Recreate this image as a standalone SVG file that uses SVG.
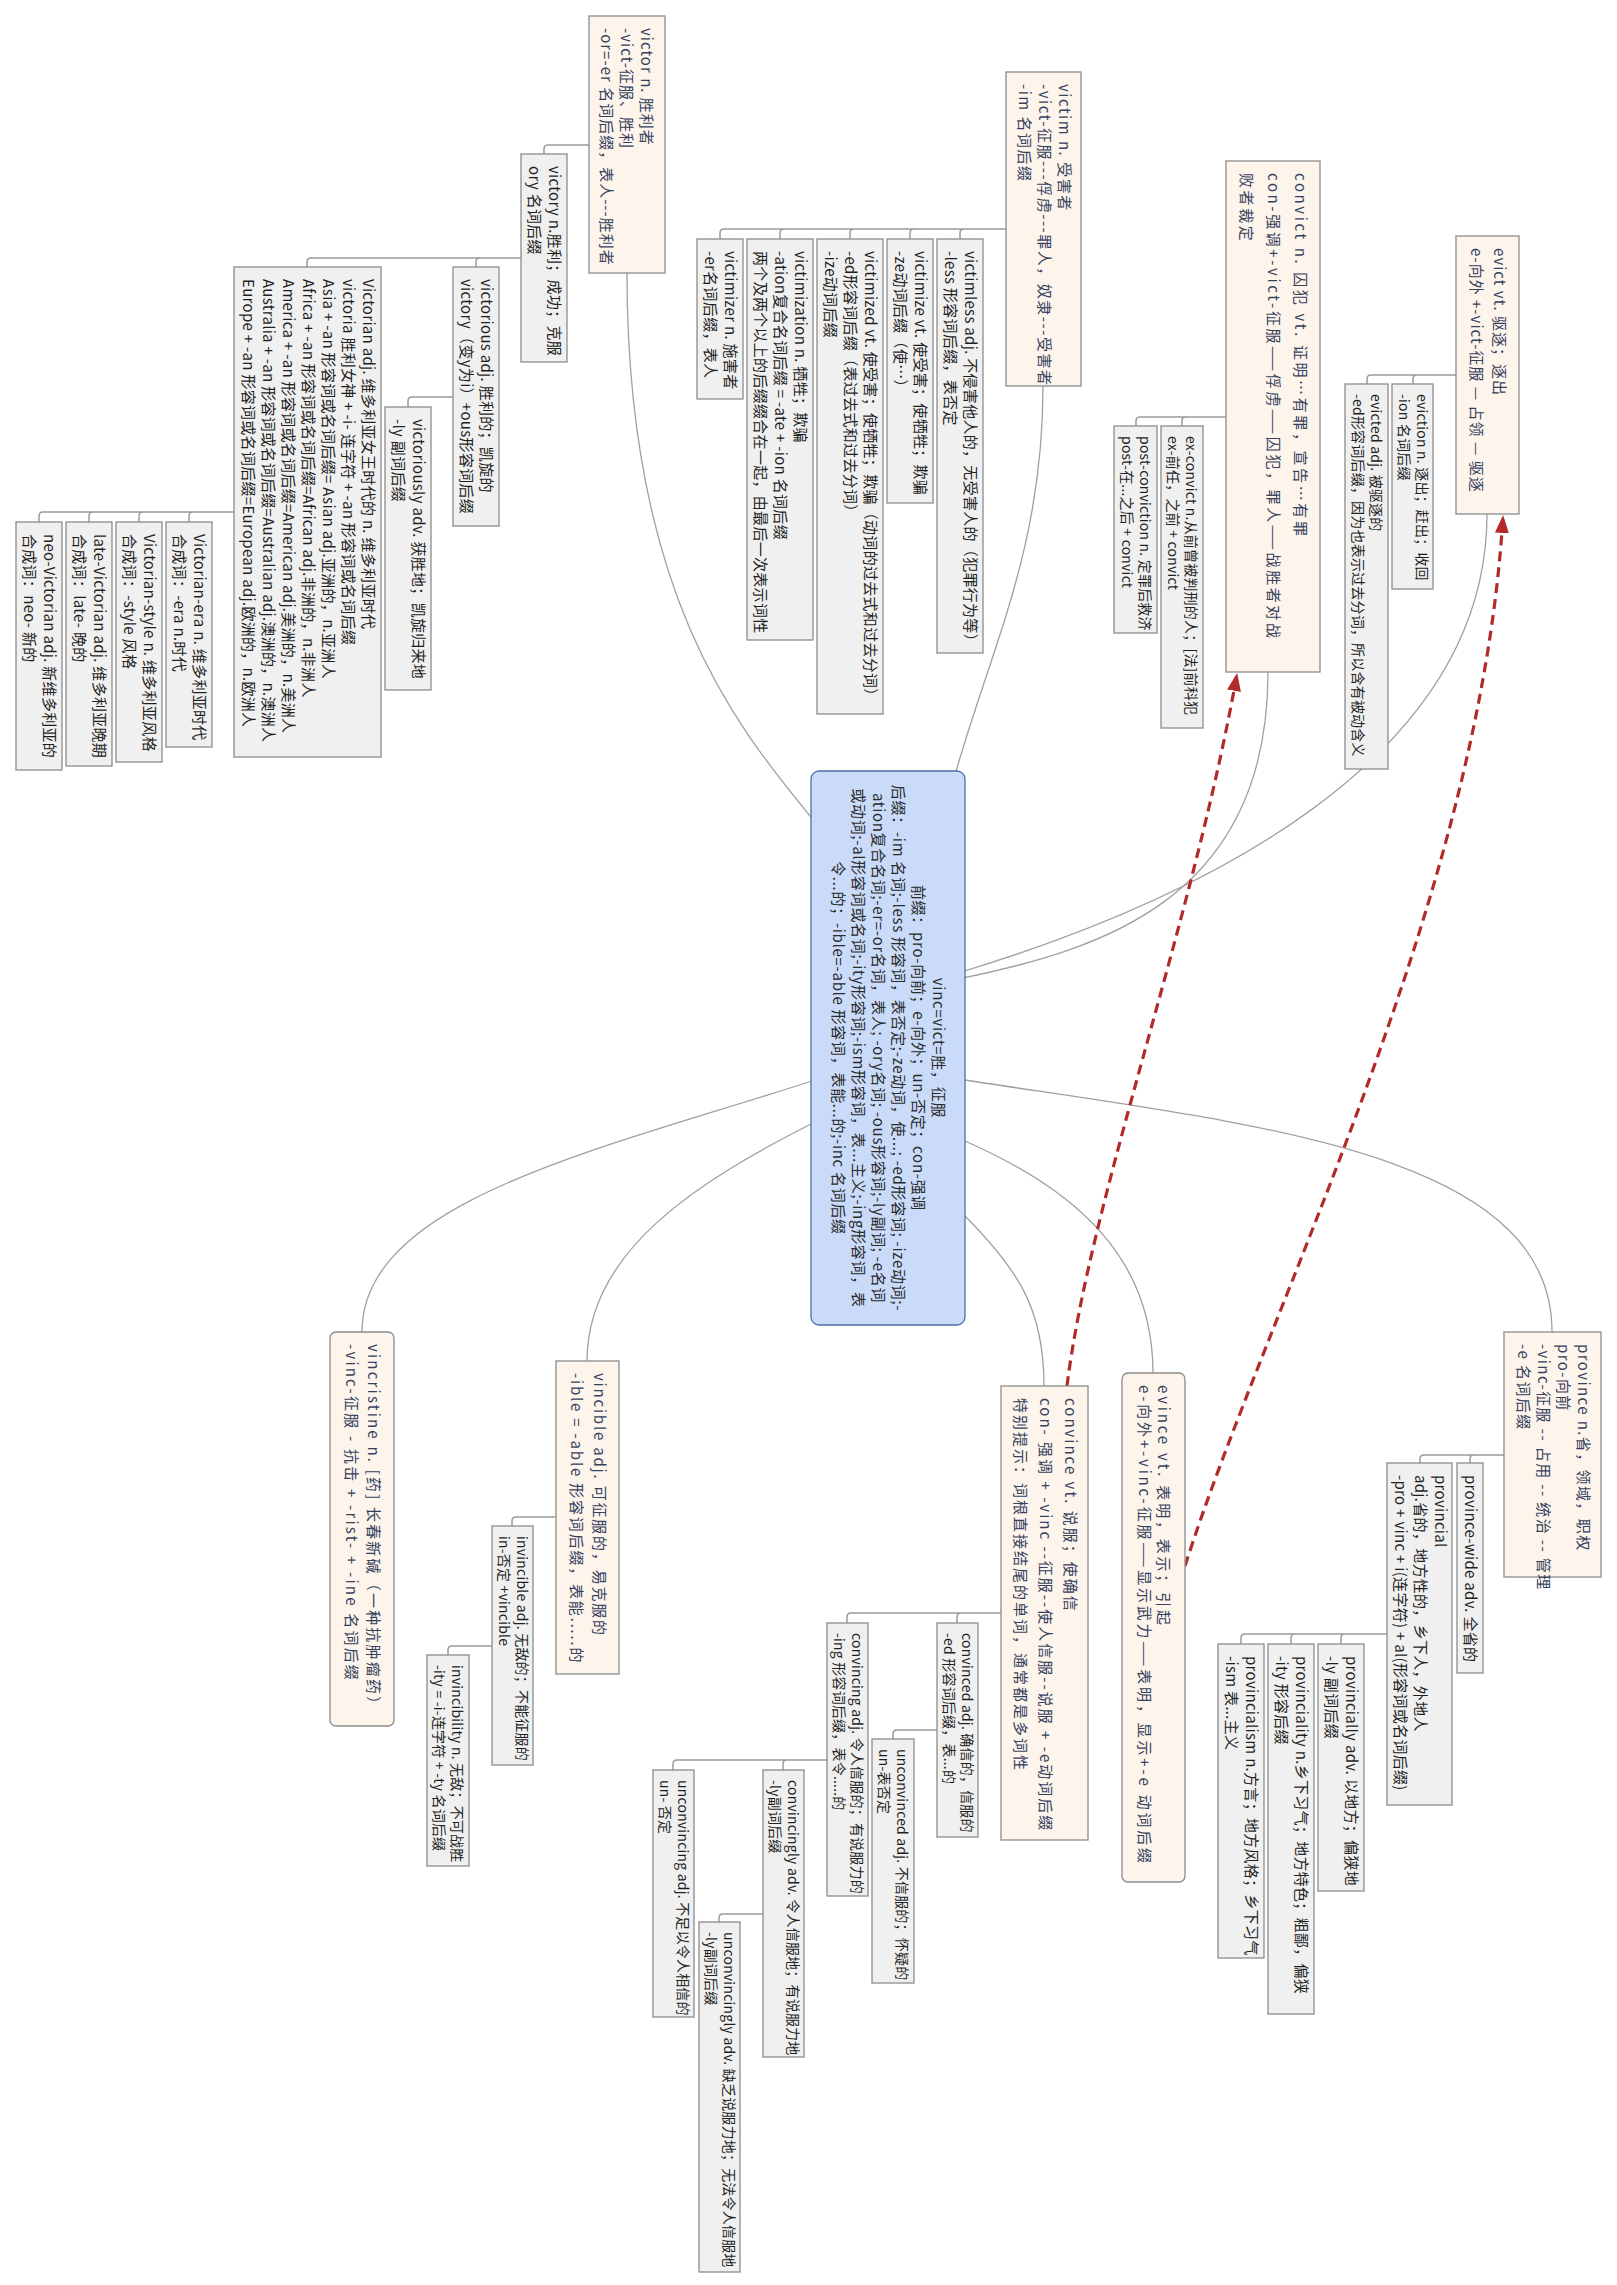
<svg xmlns="http://www.w3.org/2000/svg" width="1617" height="2285" viewBox="0 0 1617 2285">
<defs>
<style>
text{font-family:"Noto Sans CJK SC","Noto Sans",sans-serif}
.bt{fill:#fdf4ec;stroke:#8c8c8c;stroke-width:1.3}
.bs{fill:#f0f0f0;stroke:#8c8c8c;stroke-width:1.3}
.bc{fill:#c9dbf9;stroke:#4d6fa9;stroke-width:1.3}
.tc{font-size:15px;fill:#2b2b2b;letter-spacing:0.7px;text-anchor:middle}
.tA{font-size:15px;fill:#35425c;letter-spacing:1.5px}
.tB{font-size:15px;fill:#35425c;letter-spacing:1px}
.ts{font-size:15px;fill:#1f1f1f;letter-spacing:0.3px}
.tx{font-size:14px;fill:#1f1f1f;letter-spacing:0.2px}
.link{fill:none;stroke:#a0a0a0;stroke-width:1.3}
.tree{fill:none;stroke:#9a9a9a;stroke-width:1.5}
.rel{fill:none;stroke:#b22a2a;stroke-width:3.2;stroke-dasharray:10 6}
</style>
<marker id="arr" markerUnits="userSpaceOnUse" markerWidth="18" markerHeight="14" viewBox="0 0 18 14" refX="17" refY="7" orient="auto">
<path d="M0,0 L18,7 L0,14 z" fill="#b22a2a"/>
</marker>
</defs>
<rect width="1617" height="2285" fill="#ffffff"/>

<g id="connectors">
<path class="link" d="M815,822 C740,730 627,600 627,273"/>
<path class="link" d="M955,775 C990,650 1043,550 1043,386"/>
<path class="link" d="M958,979 C1100,950 1268,900 1268,672"/>
<path class="link" d="M958,973 C1200,900 1487,760 1487,514"/>
<path class="link" d="M958,1079 C1250,1124 1552,1150 1552,1332"/>
<path class="link" d="M958,1138 C1080,1190 1153,1260 1153,1373"/>
<path class="link" d="M958,1209 C1020,1270 1044,1310 1044,1386"/>
<path class="link" d="M815,1122 C700,1180 587,1250 587,1361"/>
<path class="link" d="M815,1080 C600,1150 362,1200 362,1332"/>

<path class="tree" d="M589,145 H548 Q544,145 544,149 V154"/>
<path class="tree" d="M521,258 H480 Q476,258 476,262 V267 M521,258 H311 Q307,258 307,262 V267"/>
<path class="tree" d="M453,397 H412 Q408,397 408,401 V407"/>
<path class="tree" d="M234,512 H193 Q189,512 189,516 V522 M234,512 H143 Q139,512 139,516 V522 M234,512 H93 Q89,512 89,516 V522 M234,512 H43 Q39,512 39,516 V522"/>
<path class="tree" d="M1006,229 H964 Q960,229 960,233 V239 M1006,229 H914 Q910,229 910,233 V239 M1006,229 H854 Q850,229 850,233 V239 M1006,229 H784 Q780,229 780,233 V239 M1006,229 H724 Q720,229 720,233 V239"/>
<path class="tree" d="M1226,417 H1186 Q1182,417 1182,421 V426 M1226,417 H1140 Q1136,417 1136,421 V426"/>
<path class="tree" d="M1456,375 H1417 Q1413,375 1413,379 V384 M1456,375 H1371 Q1367,375 1367,379 V384"/>
<path class="tree" d="M1504,1455 H1474 Q1470,1455 1470,1459 V1463 M1504,1455 H1424 Q1420,1455 1420,1459 V1463"/>
<path class="tree" d="M1387,1634 H1345 Q1341,1634 1341,1638 V1644 M1387,1634 H1295 Q1291,1634 1291,1638 V1644 M1387,1634 H1245 Q1241,1634 1241,1638 V1644"/>
<path class="tree" d="M1001,1613 H961 Q957,1613 957,1617 V1623 M1001,1613 H851 Q847,1613 847,1617 V1623"/>
<path class="tree" d="M937,1730 H897 Q893,1730 893,1734 V1739"/>
<path class="tree" d="M827,1760 H787 Q783,1760 783,1764 V1770 M827,1760 H677 Q673,1760 673,1764 V1770"/>
<path class="tree" d="M763,1914 H723 Q719,1914 719,1918 V1922"/>
<path class="tree" d="M556,1517 H516 Q512,1517 512,1521 V1526"/>
<path class="tree" d="M492,1646 H452 Q448,1646 448,1650 V1655"/>

<path class="rel" d="M1067,1386 C1090,1200 1192,926 1237,674" marker-end="url(#arr)"/>
<path class="rel" d="M1185,1566 C1270,1300 1480,900 1503,516" marker-end="url(#arr)"/>
</g>

<g id="n-center" transform="translate(965,771) rotate(90)">
<rect class="bc" width="554" height="154" rx="8"/>
<text class="tc"><tspan x="277" y="32">vinc=vict=胜，征服</tspan><tspan x="277" y="52">前缀：pro-向前；e-向外；un-否定；con-强调</tspan><tspan x="277" y="72">后缀：-im 名词;-less 形容词，表否定;-ze动词，使...; -ed形容词; -ize动词;-</tspan><tspan x="277" y="92">ation复合名词;-er=-or名词，表人; -ory名词; -ous形容词;-ly副词; -e名词</tspan><tspan x="277" y="112">或动词;-al形容词或名词;-ity形容词;-ism形容词，表...主义;-ing形容词，表</tspan><tspan x="277" y="132">令...的；-ible=-able 形容词，表能...的;-inc 名词后缀</tspan></text>
</g>

<g id="n-victor" transform="translate(665,16) rotate(90)">
<rect class="bt" width="257" height="76"/>
<text class="tB"><tspan x="12" y="24">victor n. 胜利者</tspan><tspan x="12" y="44">-vict-征服、胜利</tspan><tspan x="12" y="64">-or=-er 名词后缀，表人---胜利者</tspan></text>
</g>
<g id="n-victory" transform="translate(567,154) rotate(90)">
<rect class="bs" width="208" height="46"/>
<text class="ts"><tspan x="12" y="18">victory n.胜利；成功；克服</tspan><tspan x="12" y="38">ory 名词后缀</tspan></text>
</g>
<g id="n-victorious" transform="translate(499,267) rotate(90)">
<rect class="bs" width="259" height="46"/>
<text class="ts"><tspan x="12" y="18">victorious adj. 胜利的；凯旋的</tspan><tspan x="12" y="38">victory（变y为i）+ous形容词后缀</tspan></text>
</g>
<g id="n-victoriously" transform="translate(431,407) rotate(90)">
<rect class="bs" width="283" height="46"/>
<text class="ts"><tspan x="12" y="18">victoriously adv. 获胜地；凯旋归来地</tspan><tspan x="12" y="38">-ly 副词后缀</tspan></text>
</g>
<g id="n-victorian" transform="translate(381,267) rotate(90)">
<rect class="bs" width="490" height="147"/>
<text class="ts"><tspan x="12" y="18.5">Victorian adj. 维多利亚女王时代的 n. 维多利亚时代</tspan><tspan x="12" y="38.5">victoria 胜利女神 + -i- 连字符 + -an 形容词或名词后缀</tspan><tspan x="12" y="58.5">Asia + -an 形容词或名词后缀= Asian adj.亚洲的，n.亚洲人</tspan><tspan x="12" y="78.5">Africa + -an 形容词或名词后缀=African adj.非洲的，n.非洲人</tspan><tspan x="12" y="98.5">America + -an 形容词或名词后缀=American adj.美洲的，n.美洲人</tspan><tspan x="12" y="118.5">Australia + -an 形容词或名词后缀=Australian adj.澳洲的，n.澳洲人</tspan><tspan x="12" y="138.5">Europe + -an 形容词或名词后缀=European adj.欧洲的，n.欧洲人</tspan></text>
</g>
<g id="n-victorian-era" transform="translate(212,522) rotate(90)">
<rect class="bs" width="225" height="46"/>
<text class="ts"><tspan x="12" y="18">Victorian-era n. 维多利亚时代</tspan><tspan x="12" y="38">合成词：-era n.时代</tspan></text>
</g>
<g id="n-victorian-style" transform="translate(162,522) rotate(90)">
<rect class="bs" width="240" height="46"/>
<text class="ts"><tspan x="12" y="18">Victorian-style n. 维多利亚风格</tspan><tspan x="12" y="38">合成词：-style 风格</tspan></text>
</g>
<g id="n-late-victorian" transform="translate(112,522) rotate(90)">
<rect class="bs" width="244" height="46"/>
<text class="ts"><tspan x="12" y="18">late-Victorian adj. 维多利亚晚期</tspan><tspan x="12" y="38">合成词：late- 晚的</tspan></text>
</g>
<g id="n-neo-victorian" transform="translate(62,522) rotate(90)">
<rect class="bs" width="248" height="46"/>
<text class="ts"><tspan x="12" y="18">neo-Victorian adj. 新维多利亚的</tspan><tspan x="12" y="38">合成词：neo- 新的</tspan></text>
</g>

<g id="n-victim" transform="translate(1081,72) rotate(90)">
<rect class="bt" width="314" height="75"/>
<text class="tA"><tspan x="12" y="22.5">victim n. 受害者</tspan><tspan x="12" y="42.5">-vict-征服---俘虏---罪人，奴隶---受害者</tspan><tspan x="12" y="62.5">-im 名词后缀</tspan></text>
</g>
<g id="n-victimless" transform="translate(983,239) rotate(90)">
<rect class="bs" width="414" height="46"/>
<text class="ts"><tspan x="12" y="18">victimless adj. 不侵害他人的，无受害人的（犯罪行为等）</tspan><tspan x="12" y="38">-less 形容词后缀，表否定</tspan></text>
</g>
<g id="n-victimize" transform="translate(933,239) rotate(90)">
<rect class="bs" width="264" height="46"/>
<text class="ts"><tspan x="12" y="18">victimize vt. 使受害；使牺牲；欺骗</tspan><tspan x="12" y="38">-ze动词后缀（使…）</tspan></text>
</g>
<g id="n-victimized" transform="translate(883,239) rotate(90)">
<rect class="bs" width="475" height="66"/>
<text class="ts"><tspan x="12" y="18">victimized vt. 使受害；使牺牲；欺骗（动词的过去式和过去分词）</tspan><tspan x="12" y="38">-ed形容词后缀（表过去式和过去分词）</tspan><tspan x="12" y="58">-ize动词后缀</tspan></text>
</g>
<g id="n-victimization" transform="translate(813,239) rotate(90)">
<rect class="bs" width="401" height="66"/>
<text class="ts"><tspan x="12" y="18">victimization n. 牺牲；欺骗</tspan><tspan x="12" y="38">-ation复合名词后缀 = -ate + -ion 名词后缀</tspan><tspan x="12" y="58">两个及两个以上的后缀缀合在一起，由最后一次表示词性</tspan></text>
</g>
<g id="n-victimizer" transform="translate(743,239) rotate(90)">
<rect class="bs" width="160" height="46"/>
<text class="ts"><tspan x="12" y="18">victimizer n. 施害者</tspan><tspan x="12" y="38">-er名词后缀，表人</tspan></text>
</g>

<g id="n-convict" transform="translate(1320,161) rotate(90)">
<rect class="bt" width="511" height="94"/>
<text class="tA" style="letter-spacing:2.6px"><tspan x="12" y="25">convict n. 囚犯 vt. 证明…有罪，宣告…有罪</tspan><tspan x="12" y="52">con-强调+-vict-征服——俘虏——囚犯，罪人——战胜者对战</tspan><tspan x="12" y="79">败者裁定</tspan></text>
</g>
<g id="n-ex-convict" transform="translate(1203,426) rotate(90)">
<rect class="bs" width="302" height="42"/>
<text class="tx"><tspan x="10" y="17">ex-convict n.从前曾被判刑的人；[法]前科犯</tspan><tspan x="10" y="35">ex-前任，之前 + convict</tspan></text>
</g>
<g id="n-post-conviction" transform="translate(1157,426) rotate(90)">
<rect class="bs" width="207" height="43"/>
<text class="tx"><tspan x="10" y="17.5">post-conviction n. 定罪后救济</tspan><tspan x="10" y="35.5">post-在...之后 + convict</tspan></text>
</g>

<g id="n-evict" transform="translate(1519,236) rotate(90)">
<rect class="bt" width="278" height="63"/>
<text class="tB"><tspan x="12" y="25">evict vt. 驱逐；逐出</tspan><tspan x="12" y="48">e-向外 +-vict-征服 — 占领 — 驱逐</tspan></text>
</g>
<g id="n-eviction" transform="translate(1433,384) rotate(90)">
<rect class="bs" width="205" height="41"/>
<text class="tx"><tspan x="10" y="16.5">eviction n. 逐出；赶出；收回</tspan><tspan x="10" y="34.5">-ion 名词后缀</tspan></text>
</g>
<g id="n-evicted" transform="translate(1388,384) rotate(90)">
<rect class="bs" width="385" height="43"/>
<text class="tx"><tspan x="10" y="17.5">evicted adj. 被驱逐的</tspan><tspan x="10" y="35.5">-ed形容词后缀，因为也表示过去分词，所以含有被动含义</tspan></text>
</g>

<g id="n-province" transform="translate(1601,1332) rotate(90)">
<rect class="bt" width="245" height="97"/>
<text class="tB" style="letter-spacing:1.4px"><tspan x="12" y="23.5">province n.省，领域，职权</tspan><tspan x="12" y="43.5">pro-向前</tspan><tspan x="12" y="63.5">-vinc-征服 -- 占用 -- 统治 -- 管理</tspan><tspan x="12" y="83.5">-e 名词后缀</tspan></text>
</g>
<g id="n-province-wide" transform="translate(1483,1463) rotate(90)">
<rect class="bs" width="210" height="26"/>
<text class="ts"><tspan x="12" y="18">province-wide adv. 全省的</tspan></text>
</g>
<g id="n-provincial" transform="translate(1452,1463) rotate(90)">
<rect class="bs" width="342" height="65"/>
<text class="ts"><tspan x="12" y="17.5">provincial</tspan><tspan x="12" y="37.5">adj.省的，地方性的，乡下人，外地人</tspan><tspan x="12" y="57.5">-pro + vinc + i(连字符) + al(形容词或名词后缀)</tspan></text>
</g>
<g id="n-provincially" transform="translate(1364,1644) rotate(90)">
<rect class="bs" width="247" height="46"/>
<text class="ts"><tspan x="12" y="18">provincially adv. 以地方；偏狭地</tspan><tspan x="12" y="38">-ly 副词后缀</tspan></text>
</g>
<g id="n-provinciality" transform="translate(1314,1644) rotate(90)">
<rect class="bs" width="370" height="46"/>
<text class="ts"><tspan x="12" y="18">provinciality n.乡下习气；地方特色；粗鄙，偏狭</tspan><tspan x="12" y="38">-ity 形容后缀</tspan></text>
</g>
<g id="n-provincialism" transform="translate(1264,1644) rotate(90)">
<rect class="bs" width="314" height="46"/>
<text class="ts"><tspan x="12" y="18">provincialism n.方言；地方风格；乡下习气</tspan><tspan x="12" y="38">-ism 表...主义</tspan></text>
</g>

<g id="n-evince" transform="translate(1185,1373) rotate(90)">
<rect class="bt" width="509" height="63" rx="6"/>
<text class="tA" style="letter-spacing:2.8px"><tspan x="12" y="27">evince vt. 表明，表示；引起</tspan><tspan x="12" y="46">e-向外+-vinc-征服——显示武力——表明，显示+-e 动词后缀</tspan></text>
</g>

<g id="n-convince" transform="translate(1088,1386) rotate(90)">
<rect class="bt" width="454" height="87"/>
<text class="tA" style="letter-spacing:2px"><tspan x="12" y="23.5">convince vt. 说服；使确信</tspan><tspan x="12" y="48.5">con- 强调 + -vinc --征服--使人信服--说服 + -e动词后缀</tspan><tspan x="12" y="73.5">特别提示：词根直接结尾的单词，通常都是多词性</tspan></text>
</g>
<g id="n-convinced" transform="translate(978,1623) rotate(90)">
<rect class="bs" width="214" height="41"/>
<text class="tx"><tspan x="10" y="16.5">convinced adj. 确信的，信服的</tspan><tspan x="10" y="34.5">-ed 形容词后缀，表...的</tspan></text>
</g>
<g id="n-unconvinced" transform="translate(914,1739) rotate(90)">
<rect class="bs" width="244" height="42"/>
<text class="tx"><tspan x="10" y="17">unconvinced adj. 不信服的；怀疑的</tspan><tspan x="10" y="35">un-表否定</tspan></text>
</g>
<g id="n-convincing" transform="translate(868,1623) rotate(90)">
<rect class="bs" width="273" height="41"/>
<text class="tx"><tspan x="10" y="16.5">convincing adj. 令人信服的；有说服力的</tspan><tspan x="10" y="34.5">-ing 形容词后缀，表令.....的</tspan></text>
</g>
<g id="n-convincingly" transform="translate(804,1770) rotate(90)">
<rect class="bs" width="287" height="41"/>
<text class="tx"><tspan x="10" y="16.5">convincingly adv. 令人信服地；有说服力地</tspan><tspan x="10" y="34.5">-ly副词后缀</tspan></text>
</g>
<g id="n-unconvincingly" transform="translate(740,1922) rotate(90)">
<rect class="bs" width="350" height="41"/>
<text class="tx"><tspan x="10" y="16.5">unconvincingly adv. 缺乏说服力地；无法令人信服地</tspan><tspan x="10" y="34.5">-ly副词后缀</tspan></text>
</g>
<g id="n-unconvincing" transform="translate(694,1770) rotate(90)">
<rect class="bs" width="247" height="41"/>
<text class="tx"><tspan x="10" y="16.5">unconvincing adj. 不足以令人相信的</tspan><tspan x="10" y="34.5">un- 否定</tspan></text>
</g>

<g id="n-vincible" transform="translate(619,1361) rotate(90)">
<rect class="bt" width="313" height="63"/>
<text class="tA" style="letter-spacing:1.8px"><tspan x="12" y="25">vincible adj. 可征服的，易克服的</tspan><tspan x="12" y="48">-ible = -able 形容词后缀，表能.....的</tspan></text>
</g>
<g id="n-invincible" transform="translate(533,1526) rotate(90)">
<rect class="bs" width="239" height="41"/>
<text class="tx"><tspan x="10" y="16.5">invincible adj. 无敌的；不能征服的</tspan><tspan x="10" y="34.5">in-否定 +vincible</tspan></text>
</g>
<g id="n-invincibility" transform="translate(469,1655) rotate(90)">
<rect class="bs" width="211" height="42"/>
<text class="tx"><tspan x="10" y="17">invincibility n. 无敌；不可战胜</tspan><tspan x="10" y="35">-ity = -i-连字符 + -ty 名词后缀</tspan></text>
</g>

<g id="n-vincristine" transform="translate(394,1332) rotate(90)">
<rect class="bt" width="394" height="64" rx="6"/>
<text class="tA" style="letter-spacing:2.2px"><tspan x="12" y="26">vincristine n. [药] 长春新碱（一种抗肿瘤药）</tspan><tspan x="12" y="48">-vinc-征服 - 抗击 + -rist- + -ine 名词后缀</tspan></text>
</g>
</svg>
